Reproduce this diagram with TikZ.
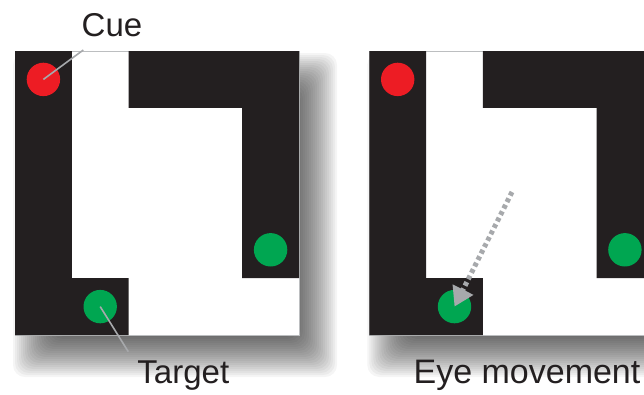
\documentclass[tikz,border=0pt]{standalone}
\usepackage{fontspec}
\setmainfont{Liberation Sans}
\usetikzlibrary{arrows.meta}
\definecolor{mazeblack}{HTML}{231F20}
\definecolor{cuered}{HTML}{ED1C24}
\definecolor{tgtgreen}{HTML}{00A651}
\definecolor{leadgray}{HTML}{A7A9AC}
\definecolor{edgegray}{HTML}{BCBEC0}
\tikzset{
  board/.style={fill=white, draw=edgegray, line width=0.7pt},
  shadowlayer/.style={fill=black, fill opacity=0.04, rounded corners=12pt},
  wall/.style={fill=mazeblack},
  cuedot/.style={circle, fill=cuered, minimum size=33.4pt, inner sep=0pt},
  tgtdot/.style={circle, fill=tgtgreen, minimum size=33.4pt, inner sep=0pt},
  leader/.style={draw=leadgray, line width=1.6pt},
  label/.style={font=\fontsize{33}{38}\selectfont, text=mazeblack, inner sep=0pt, anchor=base},
  saccade/.style={draw=leadgray, line width=5pt, dash pattern=on 4pt off 3.2pt,
    -{Triangle[length=19pt,width=22pt,fill=leadgray]}}
}
\newcommand\mazeshadow{%
  \foreach \e in {-20,-18,...,20}{
    \fill[shadowlayer] ({18-\e},{22-\e}) rectangle ({302+\e},{306+\e});
  }}
\begin{document}
\begin{tikzpicture}[x=1pt,y=-1pt]
\useasboundingbox (0,0) rectangle (644,394);
\clip (0,0) rectangle (644,394);
% ---------- left panel ----------
\begin{scope}[shift={(15,51)}]
  \mazeshadow
  \path[board] (0,0) rectangle (284,284);
  \fill[wall] (0,0) -- (56.8,0) -- (56.8,227.2) -- (113.6,227.2) -- (113.6,284) -- (0,284) -- cycle;
  \fill[wall] (113.6,0) -- (284,0) -- (284,227.2) -- (227.2,227.2) -- (227.2,56.8) -- (113.6,56.8) -- cycle;
  \node[cuedot] (cueL) at (28.4,28.4) {};
  \node[tgtdot] (tgtL) at (85.2,255.6) {};
  \node[tgtdot] (altL) at (255.6,198.8) {};
\end{scope}
% ---------- right panel ----------
\begin{scope}[shift={(369.3,51)}]
  \mazeshadow
  \path[board] (0,0) rectangle (284,284);
  \fill[wall] (0,0) -- (56.8,0) -- (56.8,227.2) -- (113.6,227.2) -- (113.6,284) -- (0,284) -- cycle;
  \fill[wall] (113.6,0) -- (284,0) -- (284,227.2) -- (227.2,227.2) -- (227.2,56.8) -- (113.6,56.8) -- cycle;
  \node[cuedot] (cueR) at (28.4,28.4) {};
  \node[tgtdot] (tgtR) at (85.2,255.6) {};
  \node[tgtdot] (altR) at (255.6,198.8) {};
\end{scope}
% ---------- labels and leaders ----------
\node[label] (cuelab) at (112,36) {Cue};
\node[label] (tgtlab) at (183.3,383) {Target};
\node[label, font=\fontsize{34}{38}\selectfont] (eyelab) at (527,383.5) {Eye movement};
\coordinate (cueend) at (83.3,50);
\coordinate (tgtend) at (128.3,351.7);
\draw[leader] (cueend) -- (cueL.center);
\draw[leader] (tgtL.center) -- (tgtend);
% ---------- eye movement arrow ----------
\coordinate (sacstart) at (512,192);
\draw[saccade] (sacstart) -- (tgtR.center);
\end{tikzpicture}
\end{document}
